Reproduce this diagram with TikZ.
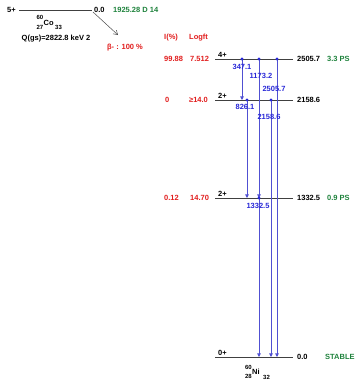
\documentclass[tikz,border=0pt]{standalone}
\usepackage{fontspec}
\setmainfont{Liberation Sans}
\usetikzlibrary{arrows.meta}
\definecolor{gblue}{RGB}{40,40,215}
\definecolor{lblue}{RGB}{80,80,210}
\definecolor{tred}{RGB}{225,30,30}
\definecolor{tgreen}{RGB}{30,130,60}
\tikzset{
  txt/.style={font=\fontsize{7.5}{8}\selectfont\bfseries, inner sep=0pt},
  sml/.style={font=\fontsize{6}{6}\selectfont\bfseries, inner sep=0pt},
  lvl/.style={draw=black!75, line width=0.6pt},
  gam/.style={draw=lblue, line width=0.7pt, -{Triangle[width=3.6pt,length=3.6pt]}},
  gdot/.style={circle, fill=gblue, inner sep=0pt, minimum size=3.2pt},
  rtxt/.style={txt, text=tred, anchor=west},
  gtxt/.style={txt, text=tgreen, anchor=west},
  btxt/.style={txt, text=gblue},
}
\begin{document}
\begin{tikzpicture}[x=1pt, y=-1pt]
\useasboundingbox (0,0) rectangle (358,381);
% parent
\coordinate (pl) at (19,10);
\coordinate (pr) at (92,10);
\draw[lvl] (pl) -- (pr);
\node[txt, anchor=west] (p5) at (7,10) {5+};
\node[txt, anchor=west] (pe) at (94,10) {0.0};
\node[gtxt] (phl) at (113,10) {1925.28 D 14};
\node[sml] (coA) at (40,17.5) {60};
\node[sml] (coZ) at (40,27) {27};
\node[txt, anchor=west] (coS) at (43.5,22.5) {Co};
\node[sml, anchor=west] (coN) at (55,27.5) {33};
\node[txt] (q) at (56,39) {Q(gs)=2822.8 keV 2};
\coordinate (ba) at (93,12);
\coordinate (bb) at (118,35);
\draw[draw=black!70, line width=0.5pt, -{Straight Barb[length=4pt,width=5pt]}] (ba) -- (bb);
\node[txt, text=tred] (bm) at (125,48) {β- : 100 \%};
\node[rtxt] (hi) at (164,38) {I(\%)};
\node[rtxt] (hl) at (189,38) {Logft};
% levels
\foreach \n/\y in {L4/59, L2/100, L1/198, L0/357}{
  \coordinate (\n a) at (215,\y);
  \coordinate (\n b) at (293,\y);
  \draw[lvl] (\n a) -- (\n b);
}
\node[txt, anchor=west] (s4) at (218,55) {4+};
\node[txt, anchor=west] (s2) at (218,96) {2+};
\node[txt, anchor=west] (s1) at (218,194) {2+};
\node[txt, anchor=west] (s0) at (218,353) {0+};
\node[txt, anchor=west] (e4) at (297,59) {2505.7};
\node[txt, anchor=west] (e2) at (297,100) {2158.6};
\node[txt, anchor=west] (e1) at (297,198) {1332.5};
\node[txt, anchor=west] (e0) at (297,357) {0.0};
\node[gtxt] (h4) at (327,59) {3.3 PS};
\node[gtxt] (h1) at (327,198) {0.9 PS};
\node[gtxt] (h0) at (325,357) {STABLE};
\node[rtxt] (i4) at (164,59) {99.88};
\node[rtxt] (f4) at (190,59) {7.512};
\node[rtxt] (i2) at (165,100) {0};
\node[rtxt] (f2) at (189,100) {≥14.0};
\node[rtxt] (i1) at (164,198) {0.12};
\node[rtxt] (f1) at (190,198) {14.70};
% daughter
\node[sml] (niA) at (248.5,367.5) {60};
\node[sml] (niZ) at (248.5,376.5) {28};
\node[txt, anchor=west] (niS) at (252,372) {Ni};
\node[sml, anchor=west] (niN) at (263,377) {32};
% gammas
\foreach \nm/\x/\ya/\yb in {ga/242/59/100, gb/259/59/198, gc/277/59/357, gd/247/100/198, ge/271/100/357, gf/259/198/357}{
  \coordinate (\nm s) at (\x,\ya);
  \coordinate (\nm e) at (\x,\yb);
  \draw[gam] (\nm s) -- (\nm e);
  \node[gdot] at (\nm s) {};
}
\node[btxt] (la) at (242,66.5) {347.1};
\node[btxt] (lb) at (261,76) {1173.2};
\node[btxt] (lc) at (274,89) {2505.7};
\node[btxt] (ld) at (245,107) {826.1};
\node[btxt] (le) at (269,117) {2158.6};
\node[btxt] (lf) at (258,206) {1332.5};
\end{tikzpicture}
\end{document}
